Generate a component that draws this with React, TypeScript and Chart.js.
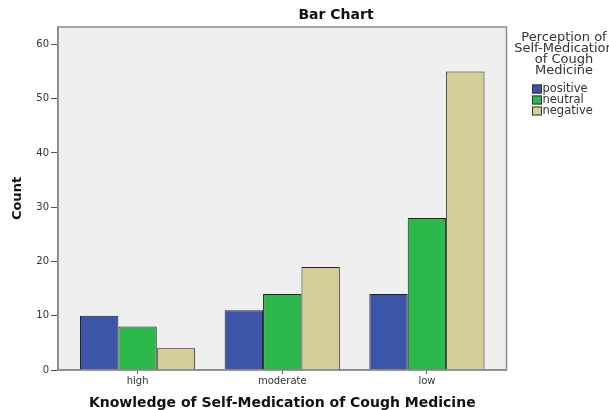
import React, { useEffect, useRef } from "react";
import { Chart, registerables } from "chart.js";

Chart.register(...registerables);

const categories = ["high", "moderate", "low"];
const seriesNames = ["positive", "neutral", "negative"];
const positiveValues = [10, 11, 14];
const neutralValues = [8, 14, 28];
const negativeValues = [4, 19, 55];
const yTickValues = [0, 10, 20, 30, 40, 50, 60];
const seriesColors = ["#3c55a8", "#2db84b", "#d3cf97"];
const legendTitleLines = ["Perception of", "Self-Medication", "of Cough", "Medicine"];
const chartTitle = "Bar Chart";
const xTitle = "Knowledge of Self-Medication of Cough Medicine";
const yTitle = "Count";

const FONT = "'DejaVu Sans', 'Liberation Sans', sans-serif";

const decorPlugin = {
  id: "decor",
  beforeDraw(chart: any) {
    const { ctx, chartArea } = chart;
    ctx.save();
    ctx.fillStyle = "#ffffff";
    ctx.fillRect(0, 0, chart.width, chart.height);
    ctx.fillStyle = "#efefef";
    ctx.fillRect(chartArea.left, chartArea.top, chartArea.right - chartArea.left, chartArea.bottom - chartArea.top);
    ctx.restore();
  },
  afterDatasetsDraw(chart: any) {
    const { ctx, chartArea } = chart;
    ctx.save();
    ctx.strokeStyle = "#8a8a8a";
    ctx.lineWidth = 1.5;
    ctx.strokeRect(chartArea.left, chartArea.top, chartArea.right - chartArea.left, chartArea.bottom - chartArea.top);
    // title
    ctx.fillStyle = "#111";
    ctx.font = `bold 14px ${FONT}`;
    ctx.textAlign = "center";
    ctx.textBaseline = "middle";
    ctx.fillText(chartTitle, 336, 15);
    // legend title
    ctx.font = `13px ${FONT}`;
    ctx.fillStyle = "#333";
    legendTitleLines.forEach((l, i) => ctx.fillText(l, 564, 38 + i * 11));
    // legend items
    ctx.textAlign = "left";
    ctx.font = `11.5px ${FONT}`;
    seriesNames.forEach((n, i) => {
      const y = 89 + i * 11;
      ctx.fillStyle = seriesColors[i];
      ctx.fillRect(532, y - 4.5, 10, 9);
      ctx.strokeStyle = "#333";
      ctx.lineWidth = 1;
      ctx.strokeRect(532.5, y - 4, 9, 8);
      ctx.fillStyle = "#333";
      ctx.fillText(n, 542.5, y + 0.5);
    });
    ctx.restore();
  },
};

export default function App() {
  const ref = useRef<HTMLCanvasElement | null>(null);
  useEffect(() => {
    document.body.style.margin = "0";
    const values = [positiveValues, neutralValues, negativeValues];
    const chart = new Chart(ref.current as HTMLCanvasElement, {
      type: "bar",
      data: {
        labels: categories,
        datasets: seriesNames.map((n, i) => ({
          label: n,
          data: values[i],
          backgroundColor: seriesColors[i],
          borderColor: "#222",
          borderWidth: 1,
          categoryPercentage: 0.796,
          barPercentage: 1,
        })),
      },
      options: {
        animation: false,
        responsive: false,
        layout: { padding: { left: 0, top: 27, right: 102.5, bottom: 0 } },
        plugins: { legend: { display: false }, tooltip: { enabled: false }, title: { display: false } },
        scales: {
          x: {
            offset: true,
            grid: { display: true, drawOnChartArea: false, offset: false, tickLength: 4, color: "#555", lineWidth: 1 },
            border: { display: true, color: "#8a8a8a", width: 1.5 },
            ticks: { color: "#333", font: { family: FONT, size: 10 }, padding: 1 },
            title: { display: true, text: xTitle, color: "#111", font: { family: FONT, size: 14, weight: "bold", lineHeight: 1.0 }, padding: { top: 0, bottom: 0 } },
            afterFit(scale: any) {
              scale.height = 40;
              scale._startValue = -0.55;
              scale._valueRange = 3.1;
            },
          },
          y: {
            min: 0,
            max: 63.2,
            ticks: { stepSize: 10, color: "#333", font: { family: FONT, size: 10 }, padding: 2 },
            afterBuildTicks(scale: any) {
              scale.ticks = yTickValues.map((v) => ({ value: v }));
            },
            grid: { display: true, drawOnChartArea: false, tickLength: 7, color: "#555", lineWidth: 1 },
            border: { display: true, color: "#8a8a8a", width: 1.5 },
            title: { display: true, text: yTitle, color: "#111", font: { family: FONT, size: 13, weight: "bold" }, padding: { top: 10, bottom: 0 } },
            afterFit(scale: any) { scale.width = 58; },
          },
        },
      },
      plugins: [decorPlugin],
    });
    return () => chart.destroy();
  }, []);
  return (
    <div style={{ position: "absolute", left: 0, top: 0, width: 609, height: 410 }}>
      <canvas ref={ref} width={609} height={410} style={{ width: 609, height: 410 }} />
    </div>
  );
}
